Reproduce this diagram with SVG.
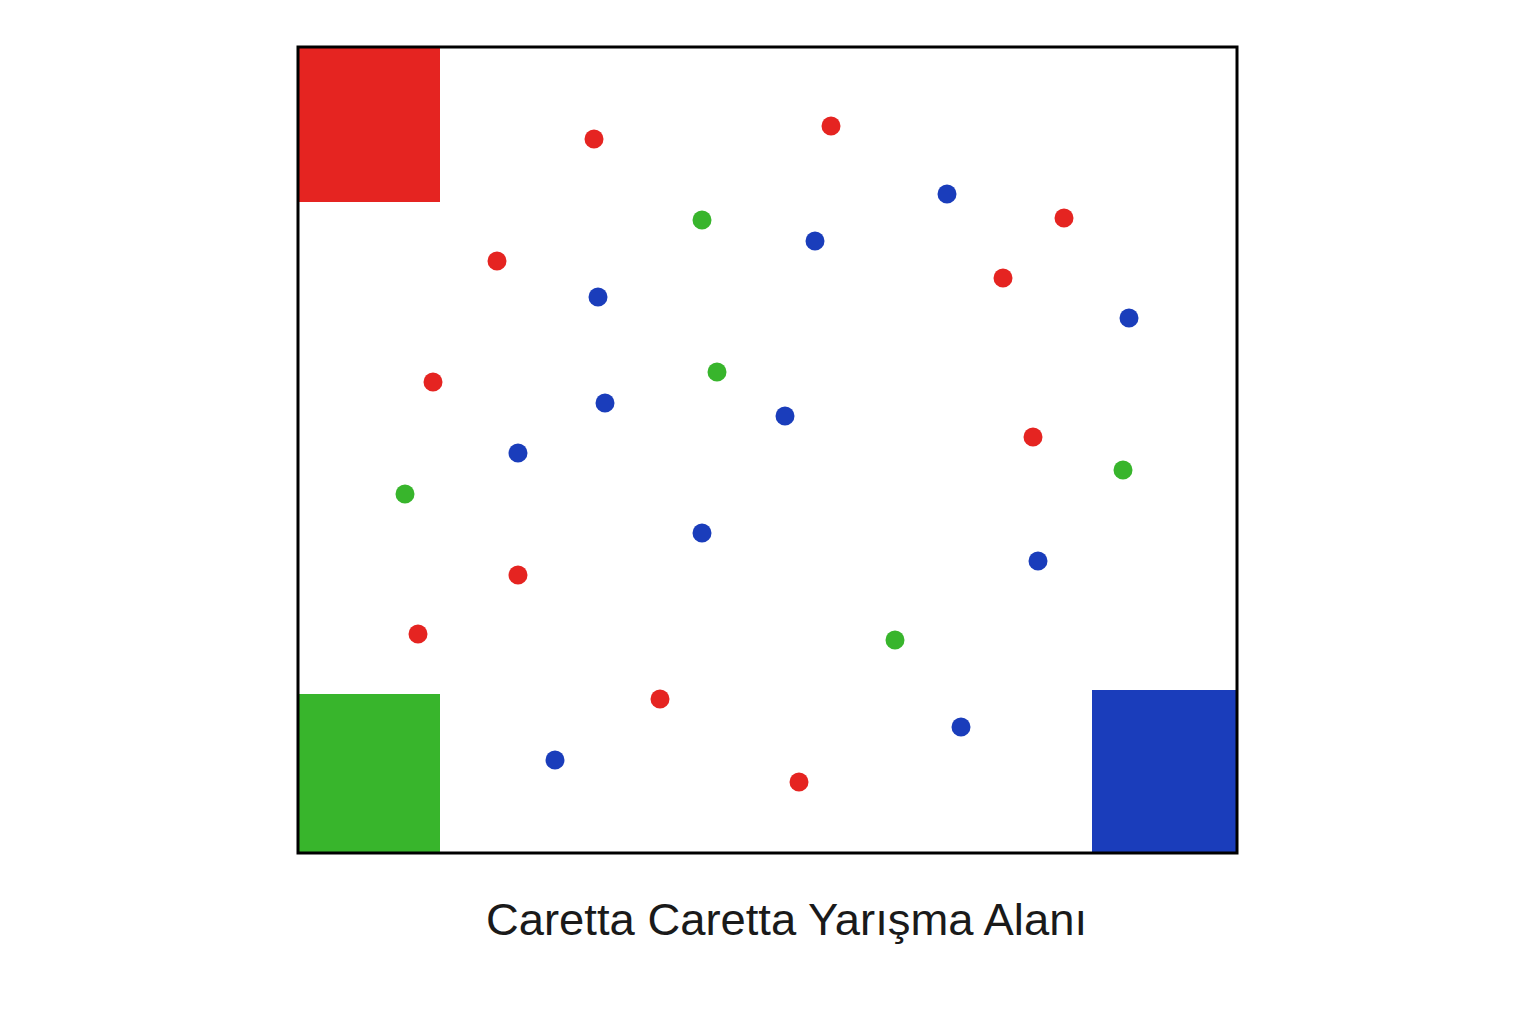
<svg xmlns="http://www.w3.org/2000/svg" width="1536" height="1024" viewBox="0 0 1536 1024">
<style>
.r{fill:#e52421}.b{fill:#1a3dbb}.g{fill:#38b52c}
.cap{font-family:"Liberation Sans",Arial,sans-serif;font-size:44px;fill:#1a1a1a}
</style>
<rect width="1536" height="1024" fill="#ffffff"/>
<g id="field">
<rect id="zone-red" x="298" y="47" width="142" height="155" fill="#e52421"/>
<rect id="zone-green" x="298" y="694" width="142" height="159" fill="#38b52c"/>
<rect id="zone-blue" x="1092" y="690" width="145" height="163" fill="#1a3dbb"/>
<rect id="border" x="298" y="47" width="939" height="806" fill="none" stroke="#000" stroke-width="3"/>
</g>
<g id="dots">
<circle class="r" cx="594" cy="139" r="9.5"/>
<circle class="r" cx="831" cy="126" r="9.5"/>
<circle class="r" cx="1064" cy="218" r="9.5"/>
<circle class="r" cx="497" cy="261" r="9.5"/>
<circle class="r" cx="1003" cy="278" r="9.5"/>
<circle class="r" cx="433" cy="382" r="9.5"/>
<circle class="r" cx="1033" cy="437" r="9.5"/>
<circle class="r" cx="518" cy="575" r="9.5"/>
<circle class="r" cx="418" cy="634" r="9.5"/>
<circle class="r" cx="660" cy="699" r="9.5"/>
<circle class="r" cx="799" cy="782" r="9.5"/>
<circle class="b" cx="947" cy="194" r="9.5"/>
<circle class="b" cx="815" cy="241" r="9.5"/>
<circle class="b" cx="598" cy="297" r="9.5"/>
<circle class="b" cx="1129" cy="318" r="9.5"/>
<circle class="b" cx="605" cy="403" r="9.5"/>
<circle class="b" cx="785" cy="416" r="9.5"/>
<circle class="b" cx="518" cy="453" r="9.5"/>
<circle class="b" cx="702" cy="533" r="9.5"/>
<circle class="b" cx="1038" cy="561" r="9.5"/>
<circle class="b" cx="961" cy="727" r="9.5"/>
<circle class="b" cx="555" cy="760" r="9.5"/>
<circle class="g" cx="702" cy="220" r="9.5"/>
<circle class="g" cx="717" cy="372" r="9.5"/>
<circle class="g" cx="405" cy="494" r="9.5"/>
<circle class="g" cx="1123" cy="470" r="9.5"/>
<circle class="g" cx="895" cy="640" r="9.5"/>
</g>
<text id="caption" class="cap" x="486" y="935" textLength="601" lengthAdjust="spacingAndGlyphs">Caretta Caretta Yarışma Alanı</text>
</svg>
